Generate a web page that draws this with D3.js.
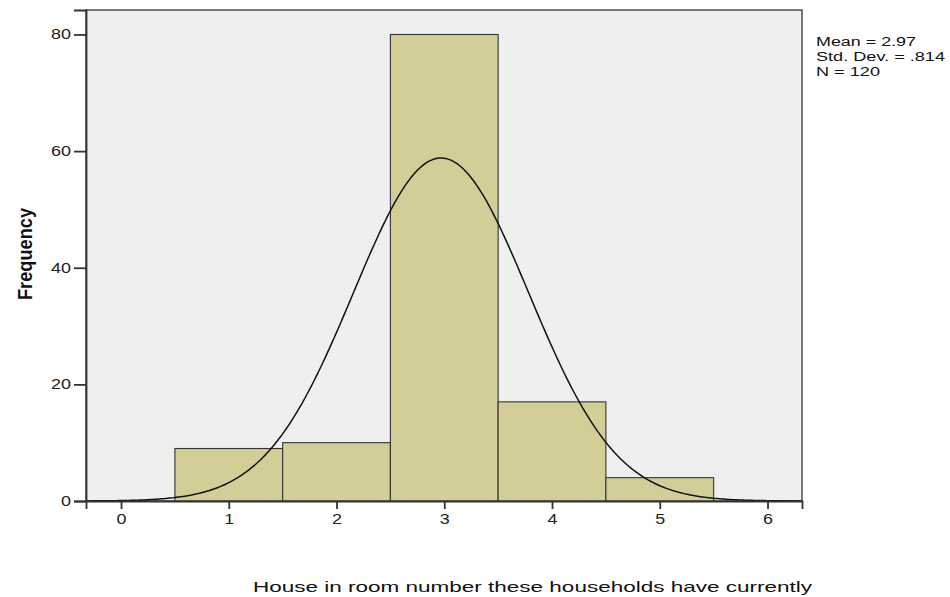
<!DOCTYPE html>
<html>
<head>
<meta charset="utf-8">
<script src="https://cdn.jsdelivr.net/npm/d3@7/dist/d3.min.js"></script>
<style>
  body { margin: 0; background: #fff; }
  text { font-family: "Liberation Sans", Arial, sans-serif; }
</style>
</head>
<body>
<div id="chart"></div>
<script>
// histogram bins (room counts) and their frequencies
const binCenters = [1, 2, 3, 4, 5];
const frequencies = [9, 10, 80, 17, 4];
const xTicks = [0, 1, 2, 3, 4, 5, 6];
const yTicks = [0, 20, 40, 60, 80];
const stats = { mean: 2.97, sd: 0.814, n: 120 };
const statLines = ["Mean = 2.97", "Std. Dev. = .814", "N = 120"];
const statWidths = [100, 129, 64];

let width = 950,
  height = 597;

let margin = { top: 10, right: 148, bottom: 96, left: 86 };

let svg = d3.select("#chart")
  .append("svg")
  .attr("width", width)
  .attr("height", height);

let x = d3.scaleLinear()
  .domain([-0.325, 6.32])
  .range([margin.left, width - margin.right]);

let y = d3.scaleLinear()
  .domain([0, 84.2])
  .range([height - margin.bottom, margin.top]);

// plot background
svg.append("rect")
  .attr("x", margin.left)
  .attr("y", margin.top)
  .attr("width", width - margin.left - margin.right)
  .attr("height", height - margin.top - margin.bottom)
  .attr("fill", "#efefef")
  .attr("stroke", "#444")
  .attr("stroke-width", 1.4);

// bars
svg.append("g")
  .selectAll("rect")
  .data(binCenters)
  .join("rect")
  .attr("x", d => x(d - 0.5))
  .attr("width", d => x(d + 0.5) - x(d - 0.5))
  .attr("y", (d, i) => y(frequencies[i]))
  .attr("height", (d, i) => y(0) - y(frequencies[i]))
  .attr("fill", "#d3ce97")
  .attr("stroke", "#333")
  .attr("stroke-width", 1.1);

// normal curve from mean / sd
let pdf = v => stats.n * Math.exp(-0.5 * Math.pow((v - stats.mean) / stats.sd, 2)) / (stats.sd * Math.sqrt(2 * Math.PI));
let curvePts = d3.range(x.domain()[0], x.domain()[1], 0.02).map(v => [v, pdf(v)]);

svg.append("path")
  .datum(curvePts)
  .attr("fill", "none")
  .attr("stroke", "#111")
  .attr("stroke-width", 1.5)
  .attr("d", d3.line().x(d => x(d[0])).y(d => y(d[1])));

// axes
let yAxis = svg.append("g")
  .attr("transform", `translate(${margin.left},0)`)
  .call(d3.axisLeft(y).tickValues(yTicks).tickFormat(d3.format("d")).tickSize(12).tickPadding(3));

let xAxis = svg.append("g")
  .attr("transform", `translate(0,${height - margin.bottom})`)
  .call(d3.axisBottom(x).tickValues(xTicks).tickFormat(d3.format("d")).tickSize(8).tickPadding(5));

[yAxis, xAxis].forEach(a => {
  a.select(".domain").attr("stroke", "#333").attr("stroke-width", 1.8);
  a.selectAll(".tick line").attr("stroke", "#333").attr("stroke-width", 1.8);
  a.selectAll(".tick text")
    .attr("fill", "#222")
    .style("font-size", "14px")
    .style("font-family", "'Liberation Sans', Arial, sans-serif")
    .each(function () {
      // reference glyphs are drawn wider than normal
      let w = this.getComputedTextLength();
      d3.select(this).attr("textLength", w * 1.28).attr("lengthAdjust", "spacingAndGlyphs");
    });
});

// y title
svg.append("text")
  .attr("transform", "translate(32,254) rotate(-90)")
  .attr("text-anchor", "middle")
  .attr("textLength", 92)
  .attr("lengthAdjust", "spacingAndGlyphs")
  .style("font-family", "'Liberation Sans Narrow', 'Liberation Sans', Arial, sans-serif")
  .style("font-size", "21px")
  .style("font-weight", "bold")
  .attr("fill", "#111")
  .text("Frequency");

// x title
svg.append("text")
  .attr("x", 253)
  .attr("y", 592)
  .attr("textLength", 559)
  .attr("lengthAdjust", "spacingAndGlyphs")
  .style("font-size", "14.5px")
  .attr("fill", "#111")
  .text("House in room number these households have currently");

// stats box text
svg.append("g")
  .selectAll("text")
  .data(statLines)
  .join("text")
  .attr("x", 816)
  .attr("y", (d, i) => 46 + i * 15)
  .attr("textLength", (d, i) => statWidths[i])
  .attr("lengthAdjust", "spacingAndGlyphs")
  .style("font-size", "12px")
  .attr("fill", "#111")
  .text(d => d);
</script>
</body>
</html>
